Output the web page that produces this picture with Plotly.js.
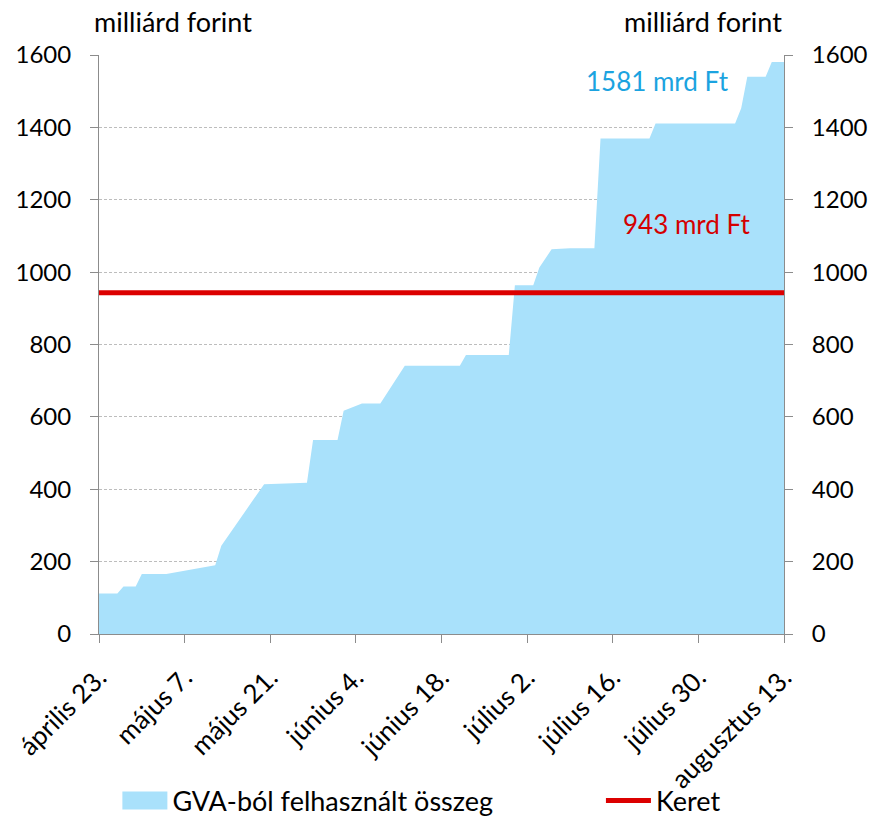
<!DOCTYPE html>
<html>
<head>
<meta charset="utf-8">
<script src="https://cdn.plot.ly/plotly-3.0.1.min.js"></script>
<style>html,body{margin:0;padding:0;background:#fff;}#chart{width:876px;height:819px;}</style>
</head>
<body>
<div id="chart"></div>
<script>
// Cumulative amount used from GVA (billion HUF)
const dates = [
  "2020-04-23","2020-04-26","2020-04-27","2020-04-29","2020-04-30","2020-05-04",
  "2020-05-12","2020-05-13","2020-05-20","2020-05-27","2020-05-28","2020-06-01",
  "2020-06-02","2020-06-05","2020-06-08","2020-06-12","2020-06-21","2020-06-22",
  "2020-06-29","2020-06-30","2020-07-03","2020-07-04","2020-07-06","2020-07-09",
  "2020-07-13","2020-07-14","2020-07-22","2020-07-23","2020-08-05","2020-08-06",
  "2020-08-07","2020-08-10","2020-08-11","2020-08-13"
];
const used = [
  112,112,131,131,166,166,
  190,244,414,418,536,536,
  617,637,637,741,741,771,
  771,964,964,1013,1063,1066,
  1066,1369,1369,1411,1411,1453,
  1540,1540,1581,1581
];
// Budget frame
const keretDates = ["2020-04-23","2020-08-13"];
const keret = [943,943];

const tickVals = ["2020-04-23","2020-05-07","2020-05-21","2020-06-04","2020-06-18",
                  "2020-07-02","2020-07-16","2020-07-30","2020-08-13"];
const tickText = ["április 23.","május 7.","május 21.","június 4.","június 18.",
                  "július 2.","július 16.","július 30.","augusztus 13."];

const font = "Lato, 'Open Sans', sans-serif";
const TS = 24;

const traces = [
  {
    x: dates, y: used, type: "scatter", mode: "none", fill: "tozeroy",
    fillcolor: "#a9e1fb", name: "GVA-ból felhasznált összeg", hoverinfo: "x+y",
    legend: "legend"
  },
  {
    x: keretDates, y: keret, type: "scatter", mode: "lines", yaxis: "y2",
    line: {color: "#dc0000", width: 5}, name: "Keret", legend: "legend2"
  }
];

const yCommon = {
  range: [0, 1600], dtick: 200, tick0: 0,
  showline: true, linecolor: "#8c8c8c", linewidth: 1,
  ticks: "outside", ticklen: 8, tickcolor: "#8c8c8c",
  tickfont: {family: font, size: TS, color: "#000"},
  ticklabelstandoff: 14,
  zeroline: false, fixedrange: true, automargin: false
};

const legendCommon = {
  orientation: "h", xref: "container", yref: "container",
  xanchor: "left", yanchor: "middle", y: 0.022,
  font: {family: font, size: 27, color: "#000"},
  itemwidth: 45, bgcolor: "rgba(0,0,0,0)"
};

const layout = {
  width: 876, height: 819,
  margin: {l: 99, r: 92, t: 55, b: 185},
  paper_bgcolor: "#fff", plot_bgcolor: "#fff",
  font: {family: font, color: "#000"},
  showlegend: true,
  legend: Object.assign({}, legendCommon, {x: 0.134}),
  legend2: Object.assign({}, legendCommon, {x: 0.686}),
  xaxis: {
    type: "date", range: ["2020-04-23", "2020-08-13"],
    tickvals: tickVals, ticktext: tickText, tickangle: -45,
    tickfont: {family: font, size: 26, color: "#000"},
    ticklabelstandoff: 9,
    showline: true, linecolor: "#8c8c8c", linewidth: 1,
    ticks: "outside", ticklen: 8, tickcolor: "#8c8c8c",
    showgrid: false, zeroline: false, fixedrange: true, automargin: false
  },
  yaxis: Object.assign({}, yCommon, {
    side: "left", showgrid: true, gridcolor: "#bdbdbd", griddash: "3px,2px", gridwidth: 1
  }),
  yaxis2: Object.assign({}, yCommon, {
    side: "right", overlaying: "y", showgrid: false
  }),
  annotations: [
    {text: "milliárd forint", xref: "paper", yref: "paper", x: -0.01, y: 1.026,
     xanchor: "left", yanchor: "bottom", showarrow: false,
     font: {family: font, size: 27, color: "#000"}},
    {text: "milliárd forint", xref: "paper", yref: "paper", x: 1.0, y: 1.026,
     xanchor: "right", yanchor: "bottom", showarrow: false,
     font: {family: font, size: 27, color: "#000"}},
    {text: "1581 mrd Ft", xref: "paper", yref: "paper", x: 0.815, y: 0.955,
     xanchor: "center", yanchor: "middle", showarrow: false,
     font: {family: font, size: 26, color: "#1ba3e0"}},
    {text: "943 mrd Ft", xref: "paper", yref: "paper", x: 0.858, y: 0.708,
     xanchor: "center", yanchor: "middle", showarrow: false,
     font: {family: font, size: 26, color: "#d40000"}}
  ]
};

Plotly.newPlot("chart", traces, layout, {displayModeBar: false, staticPlot: true}).then(function () {
  // make the area legend swatch a solid rectangle like the original
  document.querySelectorAll(".legendfill path").forEach(function (p) {
    try {
      const b = p.getBBox();
      if (b.width > 0) {
        p.setAttribute("d", "M" + b.x + ",-9h" + b.width + "v18h-" + b.width + "z");
      }
    } catch (e) {}
  });
});
</script>
</body>
</html>
